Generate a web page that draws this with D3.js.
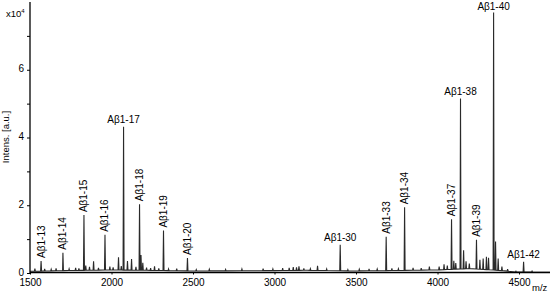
<!DOCTYPE html>
<html>
<head>
<meta charset="utf-8">
<script src="https://cdn.jsdelivr.net/npm/d3@7"></script>
<style>
  body { margin: 0; background: #fff; }
  svg { display: block; font-family: "Liberation Sans", Arial, sans-serif; }
  .axis path, .axis line { stroke: #000; }
  .axis text { font-size: 10px; fill: #000; font-family: "Liberation Sans", Arial, sans-serif; }
</style>
</head>
<body>
<div id="chart"></div>
<script>
// labelled peaks (m/z, intensity in 1e4 a.u.)
var peakNames = ["Aβ1-13", "Aβ1-14", "Aβ1-15", "Aβ1-16", "Aβ1-17", "Aβ1-18", "Aβ1-19", "Aβ1-20",
  "Aβ1-30", "Aβ1-33", "Aβ1-34", "Aβ1-37", "Aβ1-38", "Aβ1-39", "Aβ1-40", "Aβ1-42"];
var peakMz = [1568, 1702, 1831, 1960, 2074, 2172, 2319, 2466,
  3403, 3685, 3798, 4086, 4141, 4239, 4344, 4528];
var peakInt = [0.30, 0.53, 1.63, 1.04, 4.23, 1.95, 1.18, 0.38,
  0.77, 1.00, 1.86, 1.48, 5.03, 0.86, 7.60, 0.30];

// small unlabelled peaks and noise spikes
var minorMz = [1530, 1590, 1630, 1660, 1740, 1780, 1800, 1842, 1865, 1890, 1920, 1990, 2010, 2043,
  2060, 2098, 2123, 2150, 2181, 2192, 2215, 2240, 2264, 2290, 2350, 2400, 2520, 2600, 2700,
  2800, 2930, 2990, 3050, 3090, 3115, 3135, 3150, 3180, 3220, 3264, 3320, 3450, 3520, 3580,
  3630, 3720, 3760, 3850, 3900, 3950, 4010, 4040, 4060, 4100, 4112, 4160, 4175, 4195, 4260,
  4280, 4300, 4313, 4356, 4372, 4395, 4430, 4480, 4580];
var minorInt = [0.08, 0.06, 0.05, 0.07, 0.05, 0.08, 0.06, 0.14, 0.10, 0.26, 0.07, 0.10, 0.08, 0.38,
  0.12, 0.27, 0.33, 0.10, 0.45, 0.22, 0.08, 0.07, 0.12, 0.06, 0.05, 0.06, 0.04, 0.05, 0.04,
  0.05, 0.06, 0.05, 0.07, 0.08, 0.10, 0.09, 0.12, 0.06, 0.05, 0.14, 0.05, 0.04, 0.05, 0.06,
  0.05, 0.06, 0.05, 0.07, 0.06, 0.10, 0.10, 0.16, 0.12, 0.25, 0.18, 0.55, 0.22, 0.15, 0.28,
  0.32, 0.38, 0.35, 0.85, 0.35, 0.12, 0.06, 0.04, 0.03];

// baseline level under the spectrum
var baseMz = [1500, 1700, 2000, 2200, 2500, 3000, 3200, 3500, 4000, 4200, 4400, 4480, 4690];
var baseLevel = [0.05, 0.07, 0.09, 0.08, 0.06, 0.07, 0.08, 0.06, 0.09, 0.13, 0.07, 0.03, 0.02];

var yTicks = [0, 2, 4, 6];
var xTicks = [1500, 2000, 2500, 3000, 3500, 4000, 4500];

var width = 550, height = 295;
var margin = {left: 30, top: 2, bottom: 273};
var horizontal = ["Aβ1-17", "Aβ1-30", "Aβ1-38", "Aβ1-40", "Aβ1-42"];

var svg = d3.select("#chart").append("svg")
  .attr("width", width)
  .attr("height", height);

var x = d3.scaleLinear().domain([1500, 4690]).range([margin.left, width]);
var y = d3.scaleLinear().domain([0, 8]).range([margin.bottom, margin.top]);
var base = d3.scaleLinear().domain(baseMz).range(baseLevel);

// build spectrum profile from peak lists
var pts = baseMz.map(function (m) { return [m, base(m)]; });
function addPeak(m, h, w) {
  pts.push([m - w, base(m - w)]);
  pts.push([m, base(m) + h]);
  pts.push([m + w, base(m + w)]);
}
peakMz.forEach(function (m, i) { addPeak(m, peakInt[i], 3); });
minorMz.forEach(function (m, i) { addPeak(m, minorInt[i], 3); });
pts.sort(function (a, b) { return a[0] - b[0]; });

var line = d3.line()
  .x(function (d) { return x(d[0]); })
  .y(function (d) { return y(d[1]); });

svg.append("path")
  .datum(pts)
  .attr("fill", "none")
  .attr("stroke", "#2a2a2a")
  .attr("stroke-width", 1.1)
  .attr("d", line);

// axes
var yAxis = svg.append("g")
  .attr("class", "axis")
  .attr("transform", "translate(" + margin.left + ",0)")
  .call(d3.axisLeft(y).tickValues(d3.range(0, 8, 1)).tickSize(3).tickPadding(3)
    .tickFormat(function (d) { return yTicks.indexOf(d) >= 0 ? d : ""; }));
yAxis.select(".domain").attr("d", "M0," + margin.top + "V" + y(0)).attr("stroke-width", 1.3);
yAxis.selectAll(".tick text").attr("dy", "0.2em");

var xAxis = svg.append("g")
  .attr("class", "axis")
  .attr("transform", "translate(0," + (y(0) - 0.5) + ")")
  .call(d3.axisBottom(x).tickValues(xTicks).tickSize(2).tickPadding(4).tickFormat(d3.format("d")));
xAxis.select(".domain").attr("d", "M" + margin.left + ",0H" + width).attr("stroke-width", 1.3);

svg.append("text")
  .attr("transform", "translate(9,137) rotate(-90)")
  .attr("text-anchor", "middle")
  .style("font-size", "9.5px")
  .text("Intens. [a.u.]");

var exp = svg.append("text")
  .attr("x", 6).attr("y", 17)
  .style("font-size", "9.5px")
  .text("x10");
exp.append("tspan").attr("dy", -4).style("font-size", "6px").text("4");

svg.append("text")
  .attr("x", 532).attr("y", 291)
  .style("font-size", "9.5px")
  .text("m/z");

// peak labels
var labels = svg.append("g").style("font-size", "10px");
peakNames.forEach(function (name, i) {
  var px = x(peakMz[i]), py = y(base(peakMz[i]) + peakInt[i]);
  if (horizontal.indexOf(name) >= 0) {
    labels.append("text")
      .attr("x", px).attr("y", Math.max(py - 3.5, 10))
      .attr("text-anchor", "middle")
      .text(name);
  } else {
    labels.append("text")
      .attr("transform", "translate(" + (px + 3.5) + "," + (py - 3) + ") rotate(-90)")
      .attr("text-anchor", "start")
      .text(name);
  }
});
</script>
</body>
</html>
